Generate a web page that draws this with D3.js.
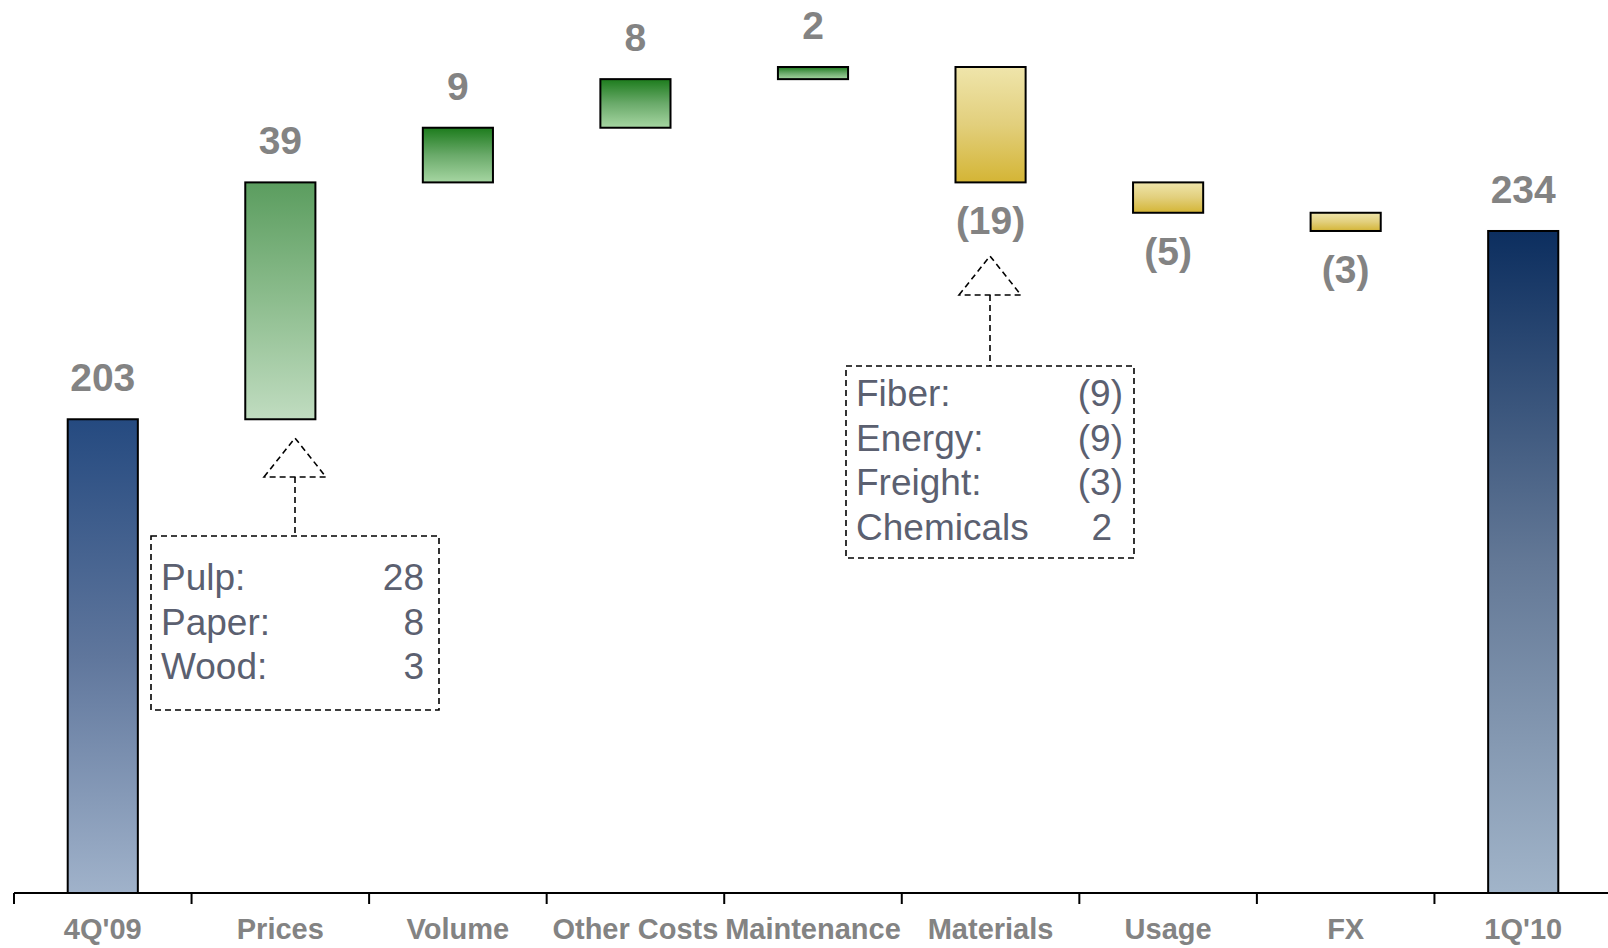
<!DOCTYPE html>
<meta charset="utf-8">
<style>
body { margin: 0; background: #fff; }
svg { font-family: "Liberation Sans", Arial, sans-serif; display: block; }
.val { font-size: 39px; font-weight: bold; fill: #838383; }
.cat { font-size: 29px; font-weight: bold; fill: #838383; }
.note { font-size: 37px; fill: #5b6070; }
</style>
<script src="https://d3js.org/d3.v7.min.js"></script>
<svg width="1608" height="948"></svg>
<script>
// bridge from 4Q'09 to 1Q'10
var categories = ["4Q'09", "Prices", "Volume", "Other Costs", "Maintenance", "Materials", "Usage", "FX", "1Q'10"];
var values = [203, 39, 9, 8, 2, -19, -5, -3, 234];
var isTotal = [true, false, false, false, false, false, false, false, true];

var priceItems = ["Pulp:", "Paper:", "Wood:"];
var priceValues = [28, 8, 3];
var materialItems = ["Fiber:", "Energy:", "Freight:", "Chemicals"];
var materialValues = [-9, -9, -3, 2];

var svg = d3.select("svg"),
    width = +svg.attr("width"),
    height = +svg.attr("height");

var base = 893;

var x = d3.scaleBand()
    .domain(categories)
    .range([14, 1612])
    .padding(0);

var y = d3.scaleLinear()
    .domain([125, 261])
    .range([base, 67]);

var barW = x.bandwidth() * 0.395;

var fmt = function(v) { return v < 0 ? "(" + Math.abs(v) + ")" : String(v); };

// running totals
var run = 0;
var bars = categories.map(function(c, i) {
  var d = { name: c, value: values[i], total: isTotal[i], idx: i };
  if (isTotal[i]) {
    d.lo = y.domain()[0]; d.hi = values[i]; run = values[i];
  } else {
    d.from = run; run += values[i];
    d.lo = Math.min(d.from, run); d.hi = Math.max(d.from, run);
  }
  return d;
});

// gradients
var defs = svg.append("defs");
function grad(id, stops) {
  var g = defs.append("linearGradient").attr("id", id)
      .attr("x1", 0).attr("y1", 0).attr("x2", 0).attr("y2", 1);
  stops.forEach(function(s) {
    g.append("stop").attr("offset", s[0]).attr("stop-color", s[1]);
  });
}
grad("gStart", [[0, "#254a80"], [0.5, "#5f769c"], [1, "#a0b2ca"]]);
grad("gEnd", [[0, "#0c2e5f"], [0.5, "#637896"], [1, "#a1b4c9"]]);
grad("gPrices", [[0, "#5b9d5f"], [0.5, "#8dbd8e"], [1, "#c0dcc0"]]);
grad("gUp", [[0, "#1d7c1d"], [0.5, "#6aaa6a"], [1, "#a6d6a2"]]);
grad("gDown", [[0, "#efe5ab"], [0.5, "#e2cf7c"], [1, "#d4b535"]]);

function fillFor(d) {
  if (d.total) return d.idx === 0 ? "url(#gStart)" : "url(#gEnd)";
  if (d.value < 0) return "url(#gDown)";
  return d.name === "Prices" ? "url(#gPrices)" : "url(#gUp)";
}

svg.append("g").selectAll("rect")
  .data(bars)
  .enter().append("rect")
    .attr("x", function(d) { return x(d.name) + (x.bandwidth() - barW) / 2; })
    .attr("y", function(d) { return y(d.hi); })
    .attr("width", barW)
    .attr("height", function(d) { return y(d.lo) - y(d.hi); })
    .attr("fill", fillFor)
    .attr("stroke", "#000")
    .attr("stroke-width", 2);

// value labels
svg.append("g").selectAll("text")
  .data(bars)
  .enter().append("text")
    .attr("class", "val")
    .attr("text-anchor", "middle")
    .attr("x", function(d) { return x(d.name) + x.bandwidth() / 2; })
    .attr("y", function(d) { return d.value < 0 ? y(d.lo) + 52 : y(d.hi) - 28; })
    .text(function(d) { return fmt(d.value); });

// axis
var axis = svg.append("g");
axis.append("line")
    .attr("x1", 14).attr("x2", width)
    .attr("y1", base).attr("y2", base)
    .attr("stroke", "#000").attr("stroke-width", 2);
axis.selectAll(".tick")
  .data(categories)
  .enter().append("line")
    .attr("x1", function(d) { return x(d); }).attr("x2", function(d) { return x(d); })
    .attr("y1", base).attr("y2", base + 11)
    .attr("stroke", "#000").attr("stroke-width", 2);
axis.selectAll("text")
  .data(categories)
  .enter().append("text")
    .attr("class", "cat")
    .attr("text-anchor", "middle")
    .attr("x", function(d) { return x(d) + x.bandwidth() / 2; })
    .attr("y", 939)
    .text(function(d) { return d; });

// breakdown call-outs
function callout(cx, top, bottom, apexY, firstLine, padPos, items, vals) {
  var w = 288, left = cx - w / 2, right = cx + w / 2;
  var g = svg.append("g");
  var dash = "6,4";
  g.append("rect")
      .attr("x", left).attr("y", top)
      .attr("width", w).attr("height", bottom - top)
      .attr("fill", "none").attr("stroke", "#000")
      .attr("stroke-width", 1.6).attr("stroke-dasharray", dash);
  var baseY = apexY + 39;
  g.append("path")
      .attr("d", "M" + (cx - 31) + "," + baseY + "L" + cx + "," + apexY + "L" + (cx + 31) + "," + baseY + "Z")
      .attr("fill", "none").attr("stroke", "#000")
      .attr("stroke-width", 1.6).attr("stroke-dasharray", dash);
  g.append("line")
      .attr("x1", cx).attr("x2", cx)
      .attr("y1", baseY).attr("y2", top)
      .attr("stroke", "#000").attr("stroke-width", 1.6).attr("stroke-dasharray", dash);
  var rows = g.selectAll("g.row")
    .data(items.map(function(t, i) { return { label: t, v: vals[i], i: i }; }))
    .enter().append("g");
  rows.append("text")
      .attr("class", "note")
      .attr("x", left + 10)
      .attr("y", function(d) { return firstLine + d.i * 44.5; })
      .text(function(d) { return d.label; });
  rows.append("text")
      .attr("class", "note")
      .attr("text-anchor", "end")
      .attr("x", function(d) { return d.v < 0 ? right - 11 : right - padPos; })
      .attr("y", function(d) { return firstLine + d.i * 44.5; })
      .text(function(d) { return fmt(d.v); });
}

callout(295, 536, 710, 438, 590, 15, priceItems, priceValues);
callout(990, 366, 558, 256, 406, 22, materialItems, materialValues);
</script>
